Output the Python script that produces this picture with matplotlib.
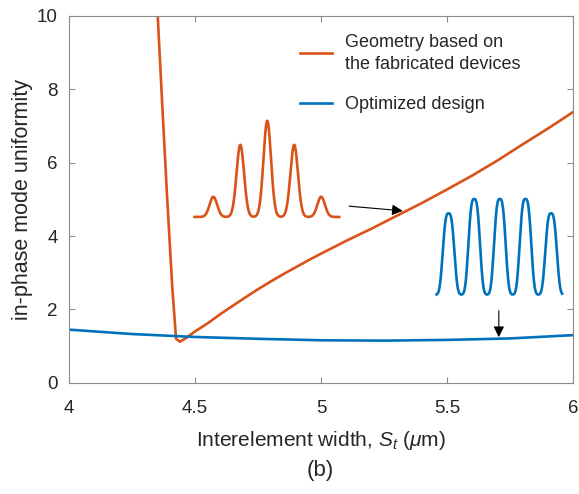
import numpy as np
import matplotlib.pyplot as plt

plt.rcParams['font.family'] = ['Liberation Sans', 'DejaVu Sans']
plt.rcParams['mathtext.fontset'] = 'custom'
plt.rcParams['mathtext.it'] = 'Liberation Sans:italic'
plt.rcParams['mathtext.rm'] = 'Liberation Sans'

ORANGE = '#D95319'
BLUE = '#0072BD'

# main curves
geo_x = [4.35, 4.37, 4.39, 4.41, 4.425, 4.44, 4.46, 4.5, 4.55, 4.6, 4.65, 4.7, 4.75, 4.8,
         4.85, 4.9, 4.95, 5.0, 5.1, 5.2, 5.3, 5.4, 5.5, 5.6, 5.7, 5.8, 5.9, 6.0]
geo_y = [10.3, 7.6, 5.0, 2.6, 1.2, 1.12, 1.2, 1.4, 1.62, 1.87, 2.1, 2.33, 2.55, 2.76,
         2.96, 3.15, 3.34, 3.52, 3.87, 4.2, 4.55, 4.9, 5.27, 5.65, 6.06, 6.5, 6.93, 7.38]
opt_x = [4.0, 4.25, 4.5, 4.75, 5.0, 5.25, 5.5, 5.75, 6.0]
opt_y = [1.45, 1.33, 1.25, 1.2, 1.16, 1.15, 1.17, 1.21, 1.3]

# inset intensity profiles (peak index, relative amplitude)
geo_peaks = [0, 1, 2, 3, 4]
geo_amp = [0.21, 0.75, 1.0, 0.75, 0.21]
opt_peaks = [0, 1, 2, 3, 4]
opt_amp = [0.85, 1.0, 1.0, 1.0, 0.85]

fig = plt.figure(figsize=(5.79, 4.94), dpi=100)
ax = fig.add_axes([0.119, 0.225, 0.871, 0.743])

ax.plot(geo_x, geo_y, color=ORANGE, lw=1.9, label='Geometry based on\nthe fabricated devices')
ax.plot(opt_x, opt_y, color=BLUE, lw=1.9, label='Optimized design')

ax.set_xlim(4, 6)
ax.set_ylim(0, 10)
ax.set_xticks([4, 4.5, 5, 5.5, 6])
ax.set_xticklabels(['4', '4.5', '5', '5.5', '6'])
ax.set_yticks([0, 2, 4, 6, 8, 10])
for s in ax.spines.values():
    s.set_color('#8c8c8c')
    s.set_linewidth(0.8)
ax.tick_params(direction='in', top=True, right=True, length=4, width=0.8,
               color='#8c8c8c', labelsize=13.5, labelcolor='#262626')
ax.tick_params(axis='x', pad=12)
ax.tick_params(axis='y', pad=8)
ax.set_xlabel(r'Interelement width, $S_t$ ($\mu$m)', fontsize=15, color='#262626', labelpad=9)
ax.set_ylabel('in-phase mode uniformity', fontsize=15.5, color='#262626', labelpad=3)

leg = ax.legend(loc='upper right', frameon=False, fontsize=13, handlelength=1.8,
                labelspacing=1.3, handletextpad=0.7, bbox_to_anchor=(0.92, 0.985),
                borderaxespad=0.3)
for t in leg.get_texts():
    t.set_color('#262626')
    t.set_linespacing(1.35)


def profile(ax_in, peaks, amp, width, power, lo, hi, color):
    # sum of (super-)gaussian peaks, just a sketch of the mode profile
    u = np.linspace(lo, hi, 800)
    v = np.zeros_like(u)
    for p, a in zip(peaks, amp):
        v += a * np.exp(-0.5 * np.abs((u - p) / width) ** power)
    ax_in.plot(u, v, color=color, lw=1.9, clip_on=False)
    ax_in.set_xlim(lo, hi)
    ax_in.set_ylim(0, 1)
    ax_in.axis('off')


ins1 = ax.inset_axes([4.498, 4.52, 0.574, 2.62], transform=ax.transData)
profile(ins1, geo_peaks, geo_amp, 0.14, 2, -0.7, 4.67, ORANGE)
ins2 = ax.inset_axes([5.458, 2.40, 0.498, 2.61], transform=ax.transData)
profile(ins2, opt_peaks, opt_amp, 0.21, 3, -0.47, 4.43, BLUE)

ax.annotate('', xy=(5.335, 4.68), xytext=(5.1, 4.82),
            arrowprops=dict(arrowstyle='-|>', color='black', lw=0.8, mutation_scale=16))
ax.annotate('', xy=(5.705, 1.17), xytext=(5.705, 2.04),
            arrowprops=dict(arrowstyle='-|>', color='black', lw=0.8, mutation_scale=16))

fig.text(0.553, 0.048, '(b)', fontsize=16, ha='center', va='center', color='#262626')

fig.savefig('out.png', dpi=100)
